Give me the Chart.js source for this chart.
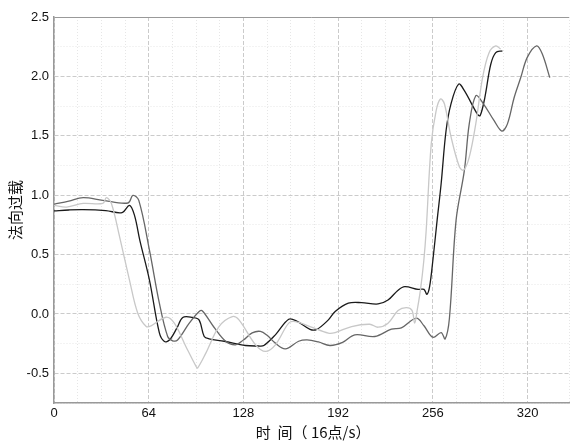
<!DOCTYPE html>
<html>
<head>
<meta charset="utf-8">
<script src="https://cdn.jsdelivr.net/npm/chart.js@4/dist/chart.umd.min.js"></script>
<style>
  html, body { margin: 0; padding: 0; background: #fff; }
  #wrap { width: 572px; height: 443px; }
</style>
</head>
<body>
<div id="wrap"><canvas id="my-chart"></canvas></div>
<script>
'use strict';

// ************** Data ***************

let darkX = [0, 10, 19.5, 35, 46, 51, 54.4, 58, 64.5, 71.2, 74.6, 78, 83, 87, 93.6, 98, 101.5, 104.8, 115, 129.4, 138, 141.8, 149.6, 158.6, 164, 173, 177.6, 185.4, 190, 198.9, 207.8, 219, 225.7, 232.5, 237, 246, 250, 252, 253.8, 256, 258.9, 261.6, 264.9, 268.3, 273.4, 277.3, 286.2, 288, 291.1, 295.1, 298.5, 303];
let darkY = [0.867, 0.875, 0.878, 0.87, 0.853, 0.914, 0.83, 0.62, 0.285, -0.16, -0.232, -0.22, -0.12, -0.03, -0.03, -0.05, -0.19, -0.21, -0.23, -0.266, -0.27, -0.266, -0.176, -0.045, -0.06, -0.13, -0.13, -0.05, 0.02, 0.09, 0.095, 0.084, 0.117, 0.2, 0.23, 0.207, 0.207, 0.165, 0.23, 0.45, 0.79, 1.096, 1.54, 1.77, 1.935, 1.88, 1.68, 1.67, 1.82, 2.10, 2.20, 2.215];

let midX = [0, 10, 19.7, 33, 50, 53.3, 57.3, 64.5, 71.2, 76.8, 80.2, 83.5, 91.4, 98.1, 100.3, 108, 116, 122.7, 128, 133.9, 139.5, 144, 149.6, 156.3, 165.3, 171, 178.7, 186.5, 195, 203.3, 216.8, 228, 234.7, 244.8, 250, 256, 261.6, 264.3, 267.2, 271.7, 277.3, 280.6, 285, 289.6, 297.4, 302.6, 306.4, 310.9, 315.4, 319.8, 326.1, 329.9, 335];
let midY = [0.923, 0.95, 0.979, 0.956, 0.934, 0.998, 0.956, 0.537, 0.09, -0.19, -0.226, -0.22, -0.078, 0.02, 0.025, -0.11, -0.23, -0.26, -0.22, -0.16, -0.147, -0.18, -0.246, -0.294, -0.23, -0.218, -0.236, -0.266, -0.24, -0.176, -0.19, -0.128, -0.118, -0.036, -0.1, -0.196, -0.157, -0.21, -0.036, 0.79, 1.208, 1.6, 1.837, 1.78, 1.627, 1.54, 1.6, 1.82, 1.99, 2.16, 2.257, 2.19, 1.99];

let lightX = [0, 8.5, 19.7, 33, 35.4, 38.8, 44.3, 51, 56.6, 62.3, 65.6, 75.7, 81.3, 89.1, 95.9, 97, 102.6, 111.5, 120.5, 125, 136.2, 142.9, 149.6, 158.6, 163, 173, 185.4, 190, 201.1, 213.4, 219, 225.7, 232.5, 238, 241.9, 243.7, 245.4, 247.6, 249.9, 251.5, 254.9, 258.2, 261.1, 263.8, 268.3, 273.9, 276.8, 280.6, 285, 289.6, 294, 298.5, 301.8];
let lightY = [0.914, 0.9, 0.93, 0.93, 0.98, 0.93, 0.65, 0.285, 0.006, -0.106, -0.1, -0.028, -0.078, -0.274, -0.44, -0.456, -0.33, -0.106, -0.022, -0.05, -0.26, -0.316, -0.26, -0.078, -0.065, -0.106, -0.162, -0.157, -0.106, -0.087, -0.112, -0.078, 0.028, 0.053, 0.03, -0.078, 0.03, 0.2, 0.45, 0.705, 1.43, 1.71, 1.81, 1.77, 1.49, 1.24, 1.21, 1.32, 1.6, 1.99, 2.2, 2.257, 2.23];

let xTickLabels = [0, 64, 128, 192, 256, 320];
let yTickLabels = [-0.5, 0.0, 0.5, 1.0, 1.5, 2.0, 2.5];

// ************** Helpers ***************

function toPoints(xs, ys) {
  let pts = [];
  for (let i = 0; i < xs.length; i++) {
    pts.push({ x: xs[i], y: ys[i] });
  }
  return pts;
}

function isMajorX(v) {
  return xTickLabels.indexOf(v) !== -1;
}

function isMajorY(v) {
  for (let i = 0; i < yTickLabels.length; i++) {
    if (Math.abs(yTickLabels[i] - v) < 1e-6) return true;
  }
  return false;
}

function makeSet(pts, color) {
  return {
    data: pts,
    borderColor: color,
    borderWidth: 1.3,
    pointRadius: 0,
    tension: 0.35,
    fill: false
  };
}

// ************** Chart ***************

let ctx = document.getElementById('my-chart').getContext('2d');

new Chart(ctx, {
  type: 'line',
  data: {
    datasets: [
      makeSet(toPoints(lightX, lightY), '#c8c8c8'),
      makeSet(toPoints(midX, midY), '#666666'),
      makeSet(toPoints(darkX, darkY), '#1a1a1a')
    ]
  },
  options: {
    responsive: true,
    maintainAspectRatio: false,
    animation: false,
    layout: { padding: { top: 17, right: 1, left: 0, bottom: 0 } },
    plugins: {
      legend: { display: false },
      tooltip: { enabled: false }
    },
    scales: {
      x: {
        type: 'linear',
        min: 0,
        max: 348,
        afterFit: function(scale) { scale.height = 40; },
        ticks: {
          stepSize: 16,
          autoSkip: false,
          maxRotation: 0,
          padding: 3,
          color: '#111',
          font: { family: 'Liberation Sans', size: 13 },
          callback: function(v) { return isMajorX(v) ? String(v) : ''; }
        },
        grid: {
          drawTicks: false,
          color: function(c) {
            return isMajorX(c.tick.value) ? '#cbcbcb' : '#e6e6e6';
          }
        },
        border: {
          display: true,
          color: '#999',
          width: 1.5,
          dash: function(c) {
            return isMajorX(c.tick.value) ? [4, 2] : [1, 2];
          }
        },
        title: {
          display: true,
          text: ' 时  间（ 16点/s）',
          color: '#111',
          font: { family: 'Noto Sans CJK SC', size: 15 },
          padding: { top: 0, bottom: 2 }
        }
      },
      y: {
        min: -0.75,
        max: 2.5,
        afterFit: function(scale) { scale.width = 54; },
        ticks: {
          stepSize: 0.25,
          autoSkip: false,
          padding: 5,
          color: '#111',
          font: { family: 'Liberation Sans', size: 13 },
          callback: function(v) { return isMajorY(v) ? v.toFixed(1) : ''; }
        },
        grid: {
          drawTicks: false,
          color: function(c) {
            if (Math.abs(c.tick.value - 2.5) < 1e-6) return '#999';
            return isMajorY(c.tick.value) ? '#cbcbcb' : '#e6e6e6';
          }
        },
        border: {
          display: true,
          color: '#999',
          width: 1.5,
          dash: function(c) {
            if (Math.abs(c.tick.value - 2.5) < 1e-6) return [];
            return isMajorY(c.tick.value) ? [4, 2] : [1, 2];
          }
        },
        title: {
          display: true,
          text: '法向过载',
          color: '#111',
          font: { family: 'Noto Sans CJK SC', size: 15 },
          padding: { top: 6, bottom: 0 }
        }
      }
    }
  }
});
</script>
</body>
</html>
